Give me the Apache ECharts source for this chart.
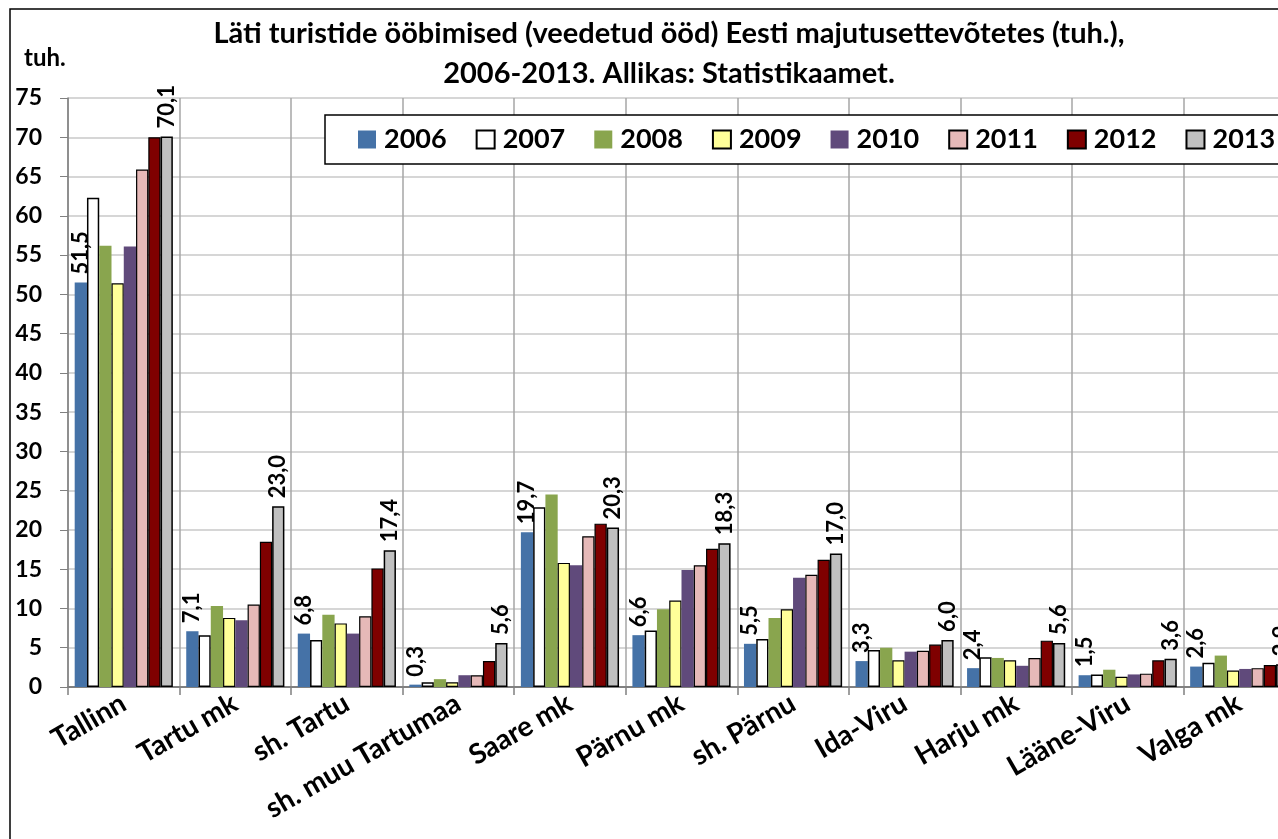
<!DOCTYPE html>
<html>
<head>
<meta charset="utf-8">
<script src="https://cdn.jsdelivr.net/npm/echarts@6/dist/echarts.min.js"></script>
<style>
  html, body { margin: 0; padding: 0; background: #fff; overflow: hidden; }
  /* joonis on aknast veidi laiem, parem serv jääb pildilt välja nagu originaalis */
  #main { width: 1295px; height: 839px; }
</style>
</head>
<body>
<div id="main"></div>
<script>
// andmed
const categories = ["Tallinn", "Tartu mk", "sh. Tartu", "sh. muu Tartumaa", "Saare mk",
  "Pärnu mk", "sh. Pärnu", "Ida-Viru", "Harju mk", "Lääne-Viru", "Valga mk"];
const years = ["2006", "2007", "2008", "2009", "2010", "2011", "2012", "2013"];
const y2006 = [51.5, 7.1, 6.8, 0.3, 19.7, 6.6, 5.5, 3.3, 2.4, 1.5, 2.6];
const y2007 = [62.3, 6.6, 6.0, 0.6, 22.9, 7.2, 6.1, 4.7, 3.8, 1.6, 3.1];
const y2008 = [56.2, 10.3, 9.2, 1.0, 24.5, 9.9, 8.8, 5.0, 3.7, 2.2, 4.0];
const y2009 = [51.4, 8.8, 8.1, 0.6, 15.8, 11.0, 9.9, 3.4, 3.4, 1.3, 2.1];
const y2010 = [56.1, 8.5, 6.8, 1.5, 15.5, 14.9, 13.9, 4.5, 2.7, 1.6, 2.3];
const y2011 = [65.9, 10.5, 9.0, 1.5, 19.2, 15.5, 14.3, 4.6, 3.7, 1.7, 2.4];
const y2012 = [70.0, 18.5, 15.1, 3.3, 20.8, 17.6, 16.2, 5.4, 5.9, 3.4, 2.8];
const y2013 = [70.1, 23.0, 17.4, 5.6, 20.3, 18.3, 17.0, 6.0, 5.6, 3.6, 2.9];
const yTicks = [0, 5, 10, 15, 20, 25, 30, 35, 40, 45, 50, 55, 60, 65, 70, 75];

const seriesData = [y2006, y2007, y2008, y2009, y2010, y2011, y2012, y2013];
const colors = ["#4572A7", "#FFFFFF", "#89A54E", "#FFFF99", "#604A7B", "#E6B9B8", "#7F0000", "#C0C0C0"];
const borders = [0, 1.5, 0, 1.2, 0, 1.2, 1.2, 1.5];
const showLabel = [true, false, false, false, false, false, false, true];

const font = "Lato, 'Noto Sans', sans-serif";

let myChart = echarts.init(document.getElementById("main"));

let series = years.map(function (y, i) {
  return {
    name: y,
    type: "bar",
    barGap: "0%",
    barCategoryGap: "12%",
    data: seriesData[i],
    itemStyle: {
      color: colors[i],
      borderColor: "#000",
      borderWidth: borders[i]
    },
    label: {
      show: showLabel[i],
      position: "top",
      rotate: 90,
      align: "left",
      verticalAlign: "middle",
      distance: 8,
      fontFamily: font,
      fontWeight: "bold",
      fontSize: 22,
      color: "#000",
      formatter: function (p) {
        return p.value.toFixed(1).replace(".", ",");
      }
    }
  };
});

let option = {
  animation: false,
  textStyle: { fontFamily: font },
  title: {
    text: "Läti turistide ööbimised (veedetud ööd) Eesti majutusettevõtetes (tuh.),\n2006-2013. Allikas: Statistikaamet.",
    left: 664,
    top: 9,
    textAlign: "center",
    textStyle: {
      fontFamily: font,
      fontWeight: "bold",
      fontSize: 29,
      lineHeight: 40,
      color: "#000"
    }
  },
  graphic: [
    {
      type: "rect",
      shape: { x: 10, y: 9, width: 1400, height: 900 },
      style: { fill: null, stroke: "#000", lineWidth: 1.5 },
      silent: true,
      z: -1
    },
    {
      type: "text",
      left: 24,
      top: 46,
      style: {
        text: "tuh.",
        fontFamily: font,
        fontWeight: "bold",
        fontSize: 24,
        fill: "#000"
      }
    }
  ],
  legend: {
    data: years,
    left: 325,
    top: 115,
    width: 1200,
    orient: "horizontal",
    itemWidth: 18,
    itemHeight: 18,
    itemGap: 29,
    padding: [11, 60, 11, 33],
    borderColor: "#000",
    borderWidth: 1.5,
    backgroundColor: "#fff",
    icon: "rect",
    textStyle: {
      fontFamily: font,
      fontWeight: "bold",
      fontSize: 27,
      color: "#000",
      padding: [0, 0, 0, 3]
    }
  },
  grid: {
    left: 68,
    right: 0,
    top: 98,
    bottom: 152,
    containLabel: false
  },
  xAxis: {
    type: "category",
    data: categories,
    axisLine: { show: true, lineStyle: { color: "#808080", width: 2 } },
    axisTick: { show: true, length: 8, lineStyle: { color: "#808080", width: 1.5 } },
    splitLine: { show: true, lineStyle: { color: "#A6A6A6", width: 1.5 } },
    axisLabel: {
      rotate: 30,
      margin: 14,
      interval: 0,
      fontFamily: font,
      fontWeight: "bold",
      fontSize: 28,
      color: "#000"
    }
  },
  yAxis: {
    type: "value",
    min: 0,
    max: 75,
    interval: 5,
    axisLine: { show: true, lineStyle: { color: "#808080", width: 1.5 } },
    axisTick: { show: true, length: 8, lineStyle: { color: "#808080" } },
    splitLine: { show: true, lineStyle: { color: "#C8C8C8", width: 1.5 } },
    axisLabel: {
      margin: 26,
      fontFamily: font,
      fontWeight: "bold",
      fontSize: 23,
      color: "#000",
      formatter: function (v) {
        return yTicks.indexOf(v) >= 0 ? String(v) : "";
      }
    }
  },
  series: series
};

myChart.setOption(option);

window.addEventListener("resize", function () {
  myChart.resize();
});
</script>
</body>
</html>
